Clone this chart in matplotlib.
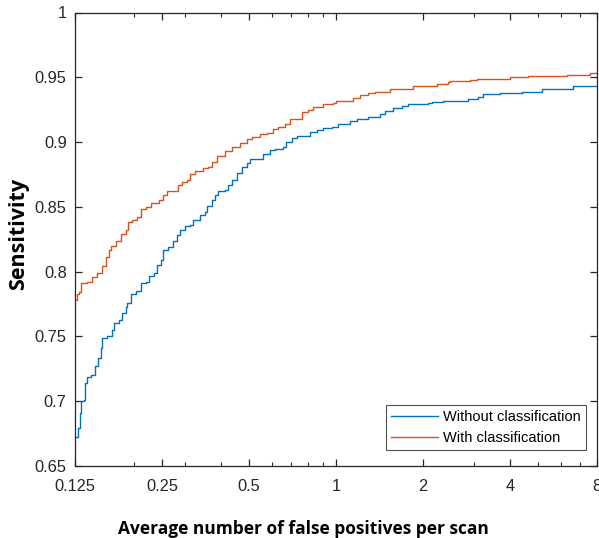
import matplotlib
matplotlib.use("Agg")
import matplotlib.pyplot as plt
from matplotlib.ticker import FixedLocator, NullFormatter

# ---- data ----
fp_without = [0.125, 0.128, 0.130, 0.1314, 0.1343, 0.1350, 0.1379, 0.1417, 0.1463, 0.1501,
              0.1534, 0.1554, 0.1617, 0.1683, 0.1706, 0.1775, 0.1822, 0.1872, 0.1896, 0.1958,
              0.2027, 0.2110, 0.2196, 0.2254, 0.2346, 0.2408, 0.2474, 0.2526, 0.2629, 0.2736,
              0.2811, 0.2886, 0.3003, 0.3125, 0.3208, 0.3384, 0.3522, 0.3570, 0.3714, 0.3814,
              0.3915, 0.4130, 0.4240, 0.4356, 0.4533, 0.4718, 0.4910, 0.504, 0.5245, 0.5458,
              0.5604, 0.5911, 0.6151, 0.6572, 0.6715, 0.7027, 0.7313, 0.7918, 0.8129, 0.8576,
              0.9038, 0.9664, 1.0185, 1.0465, 1.118, 1.1795, 1.2935, 1.420, 1.4776, 1.5785,
              1.688, 1.779, 2.086, 2.144, 2.351, 2.616, 2.870, 3.108, 3.234, 3.694,
              4.164, 4.391, 5.149, 5.879, 6.624, 8.0]
sens_without = [0.672, 0.679, 0.691, 0.700, 0.701, 0.714, 0.719, 0.720, 0.727, 0.733,
                0.741, 0.749, 0.750, 0.755, 0.760, 0.763, 0.768, 0.773, 0.776, 0.783,
                0.785, 0.791, 0.792, 0.797, 0.799, 0.805, 0.809, 0.817, 0.819, 0.824,
                0.828, 0.832, 0.835, 0.836, 0.840, 0.844, 0.846, 0.851, 0.855, 0.859,
                0.862, 0.863, 0.867, 0.871, 0.876, 0.881, 0.884, 0.887, 0.887, 0.887,
                0.891, 0.894, 0.895, 0.896, 0.900, 0.903, 0.905, 0.905, 0.908, 0.909,
                0.911, 0.912, 0.914, 0.914, 0.916, 0.918, 0.919, 0.922, 0.924, 0.926,
                0.928, 0.929, 0.930, 0.931, 0.932, 0.932, 0.933, 0.935, 0.937, 0.938,
                0.938, 0.939, 0.941, 0.941, 0.943, 0.943]

fp_with = [0.125, 0.1267, 0.1290, 0.1308, 0.1379, 0.1435, 0.1493, 0.1554, 0.1597, 0.1639,
           0.1661, 0.1729, 0.1799, 0.1872, 0.1907, 0.1973, 0.2053, 0.2110, 0.2196, 0.2285,
           0.2441, 0.2526, 0.2596, 0.2736, 0.2847, 0.2925, 0.3044, 0.3125, 0.3252, 0.3474,
           0.3615, 0.3714, 0.3865, 0.4130, 0.4356, 0.4655, 0.4910, 0.5109, 0.5458, 0.5757,
           0.6069, 0.6315, 0.6661, 0.6932, 0.7313, 0.7609, 0.8020, 0.8346, 0.9038, 0.9788,
           1.0, 1.0598, 1.148, 1.211, 1.2935, 1.3646, 1.538, 1.851, 2.231, 2.447,
           2.480, 2.909, 3.068, 4.0, 4.629, 6.285, 7.566, 8.0]
sens_with = [0.778, 0.783, 0.784, 0.791, 0.792, 0.796, 0.799, 0.804, 0.811, 0.817,
             0.820, 0.824, 0.829, 0.832, 0.838, 0.840, 0.842, 0.848, 0.850, 0.853,
             0.855, 0.859, 0.862, 0.862, 0.867, 0.869, 0.871, 0.875, 0.878, 0.880,
             0.881, 0.885, 0.889, 0.893, 0.896, 0.899, 0.902, 0.904, 0.906, 0.907,
             0.910, 0.912, 0.914, 0.918, 0.918, 0.923, 0.925, 0.927, 0.929, 0.930,
             0.932, 0.932, 0.934, 0.936, 0.938, 0.939, 0.941, 0.943, 0.945, 0.946,
             0.947, 0.948, 0.949, 0.950, 0.951, 0.952, 0.953, 0.954]

x_ticks = [0.125, 0.25, 0.5, 1, 2, 4, 8]
x_tick_labels = ["0.125", "0.25", "0.5", "1", "2", "4", "8"]
x_minor = [0.2, 0.3, 0.4, 0.6, 0.7, 0.8, 0.9, 3, 5, 6, 7]
y_ticks = [0.65, 0.7, 0.75, 0.8, 0.85, 0.9, 0.95, 1]
y_tick_labels = ["0.65", "0.7", "0.75", "0.8", "0.85", "0.9", "0.95", "1"]

series_labels = ["Without classification", "With classification"]
colors = ["#0072BD", "#D95319"]
x_title = "Average number of false positives per scan"
y_title = "Sensitivity"

# ---- figure ----
plt.rcParams['font.family'] = ['Liberation Sans', 'DejaVu Sans']
fig = plt.figure(figsize=(5.99, 5.38), dpi=100)
ax = fig.add_axes([75 / 599, 72 / 538, 522 / 599, 453.5 / 538])

ax.plot(fp_without, sens_without, drawstyle='steps-post', color=colors[0], lw=1.0,
        label=series_labels[0])
ax.plot(fp_with, sens_with, drawstyle='steps-post', color=colors[1], lw=1.0,
        label=series_labels[1])

ax.set_xscale('log', base=2)
ax.set_xlim(0.125, 8)
ax.set_ylim(0.65, 1)
ax.set_xticks(x_ticks)
ax.set_xticklabels(x_tick_labels)
ax.xaxis.set_minor_locator(FixedLocator(x_minor))
ax.xaxis.set_minor_formatter(NullFormatter())
ax.set_yticks(y_ticks)
ax.set_yticklabels(y_tick_labels)

axis_color = "#262626"
for s in ax.spines.values():
    s.set_color(axis_color)
    s.set_linewidth(0.9)
ax.tick_params(axis='both', which='major', direction='in', length=5, width=0.9,
               top=True, right=True, colors=axis_color, labelsize=11.8)
ax.tick_params(axis='x', which='major', pad=9.5)
ax.tick_params(axis='y', which='major', pad=6)
ax.tick_params(axis='x', which='minor', direction='in', length=3, width=0.8,
               top=True, colors=axis_color)

title_font = ['Open Sans', 'DejaVu Sans']
fig.text(303 / 599, 3.5 / 538, x_title, ha='center', va='baseline', fontsize=12.5,
         fontweight='bold', family=title_font, color='black')
fig.text(19 / 599, 1 - 234 / 538, y_title, ha='center', va='center', rotation=90,
         fontsize=15.5, fontweight='bold', family=title_font, color='black')

leg = ax.legend(loc='lower right', bbox_to_anchor=(586 / 599, 88 / 538),
                bbox_transform=fig.transFigure, fontsize=10.5, frameon=True,
                fancybox=False, borderpad=0.35, labelspacing=0.45, handlelength=3.2,
                handletextpad=0.35, borderaxespad=0)
leg.get_frame().set_edgecolor(axis_color)
leg.get_frame().set_linewidth(0.8)

fig.savefig("out.png", dpi=100)
